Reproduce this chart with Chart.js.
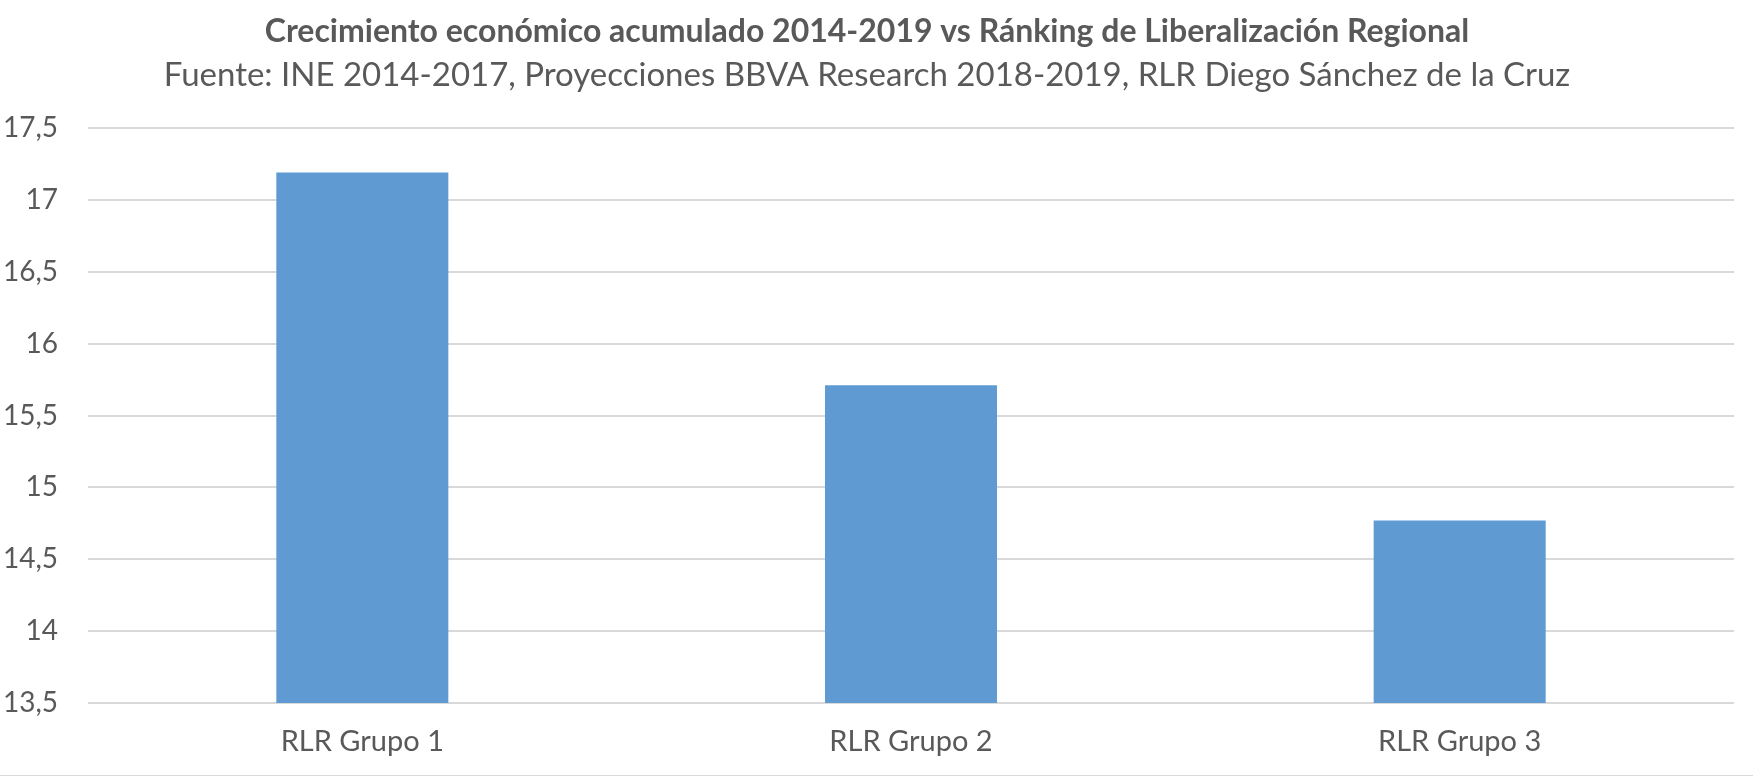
<!DOCTYPE html>
<html>
<head>
<meta charset="utf-8">
<script src="https://cdn.jsdelivr.net/npm/chart.js@4"></script>
<style>
  html, body { margin: 0; padding: 0; background: #fff; }
  #wrap { width: 1753px; height: 775px; border-bottom: 1px solid #d9d9d9; }
</style>
</head>
<body>
<div id="wrap"><canvas id="grafico"></canvas></div>
<script>
const categorias = ["RLR Grupo 1", "RLR Grupo 2", "RLR Grupo 3"];
const crecimiento = [17.19, 15.71, 14.77];
const ejeMin = 13.5;
const ejeMax = 17.5;
const ejePaso = 0.5;

const titulo = "Crecimiento económico acumulado 2014-2019 vs Ránking de Liberalización Regional";
const subtitulo = "Fuente: INE 2014-2017, Proyecciones BBVA Research 2018-2019, RLR Diego Sánchez de la Cruz";

const gris = "#595959";

new Chart(document.getElementById("grafico"), {
    type: "bar",
    data: {
        labels: categorias,
        datasets: [
            {
                label: "Crecimiento",
                data: crecimiento,
                backgroundColor: "#5f9bd2",
                barPercentage: 1,
                categoryPercentage: 0.3135,
            },
        ],
    },
    options: {
        responsive: true,
        maintainAspectRatio: false,
        animation: false,
        layout: { padding: { top: 12, left: 0, right: 19, bottom: 15 } },
        plugins: {
            legend: { display: false },
            tooltip: { enabled: false },
            title: {
                display: true,
                text: titulo,
                color: gris,
                font: { family: "Lato", size: 32, weight: "bold" },
                padding: { top: 0, bottom: 5 },
            },
            subtitle: {
                display: true,
                text: subtitulo,
                color: gris,
                font: { family: "Lato", size: 33 },
                padding: { top: 0, bottom: 33 },
            },
        },
        scales: {
            x: {
                afterFit: (escala) => { escala.height = 57; },
                grid: { display: false, drawTicks: false },
                border: { display: false },
                ticks: {
                    color: gris,
                    font: { family: "Lato", size: 29 },
                    padding: 21,
                },
            },
            y: {
                min: ejeMin,
                max: ejeMax,
                afterFit: (escala) => { escala.width = 88; },
                border: { display: false },
                grid: { color: "#d9d9d9", lineWidth: 2, drawTicks: false },
                ticks: {
                    stepSize: ejePaso,
                    color: gris,
                    padding: 30,
                    font: { family: "Lato", size: 28 },
                    callback: (v) => String(v).replace(".", ","),
                },
            },
        },
    },
});
</script>
</body>
</html>
